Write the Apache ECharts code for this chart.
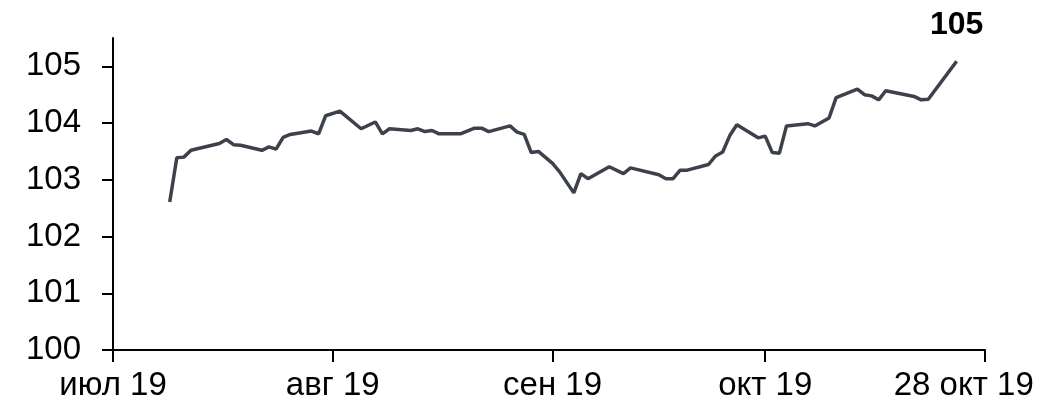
<!DOCTYPE html>
<html>
<head>
<meta charset="utf-8">
<script src="https://cdn.jsdelivr.net/npm/echarts@6/dist/echarts.min.js"></script>
<style>
    html, body { margin: 0; padding: 0; background: #fff; }
    #chart { width: 1051px; height: 412px; }
</style>
</head>
<body>
<div id="chart"></div>
<script>
    // даты и значения индекса
    var dates = [
        '2019-07-09','2019-07-10','2019-07-11','2019-07-12','2019-07-16','2019-07-17','2019-07-18','2019-07-19',
        '2019-07-22','2019-07-23','2019-07-24','2019-07-25','2019-07-26','2019-07-29','2019-07-30','2019-07-31',
        '2019-08-02','2019-08-05','2019-08-07','2019-08-08','2019-08-09','2019-08-12','2019-08-13','2019-08-14',
        '2019-08-15','2019-08-16','2019-08-19','2019-08-21','2019-08-22','2019-08-23','2019-08-26','2019-08-27',
        '2019-08-28','2019-08-29','2019-08-30','2019-09-01','2019-09-02','2019-09-04','2019-09-05','2019-09-06',
        '2019-09-09','2019-09-11','2019-09-12','2019-09-16','2019-09-17','2019-09-18','2019-09-19','2019-09-20',
        '2019-09-23','2019-09-24','2019-09-25','2019-09-26','2019-09-27','2019-09-30','2019-10-01','2019-10-02',
        '2019-10-03','2019-10-04','2019-10-07','2019-10-08','2019-10-10','2019-10-11','2019-10-14','2019-10-15',
        '2019-10-16','2019-10-17','2019-10-18','2019-10-22','2019-10-23','2019-10-24','2019-10-28'
    ];
    var values = [
        102.61, 103.39, 103.40, 103.52, 103.64, 103.71, 103.62, 103.61,
        103.52, 103.58, 103.54, 103.75, 103.80, 103.86, 103.81, 104.13,
        104.21, 103.90, 104.02, 103.81, 103.90, 103.87, 103.90, 103.85,
        103.87, 103.81, 103.81, 103.91, 103.91, 103.85, 103.95, 103.84,
        103.80, 103.48, 103.50, 103.29, 103.14, 102.77, 103.11, 103.02,
        103.23, 103.11, 103.21, 103.09, 103.02, 103.02, 103.17, 103.17,
        103.27, 103.42, 103.49, 103.78, 103.97, 103.74, 103.77, 103.48,
        103.47, 103.95, 103.99, 103.95, 104.09, 104.45, 104.60, 104.50,
        104.48, 104.41, 104.57, 104.47, 104.41, 104.42, 105.09
    ];
    var lastLabel = '105';

    var yTicks = [100, 101, 102, 103, 104, 105];
    var xTickDates = ['2019-07-01','2019-08-01','2019-09-01','2019-10-01','2019-11-01'];
    var xLabelDates = ['2019-07-01','2019-08-01','2019-09-01','2019-10-01','2019-10-29'];
    var xLabels = ['июл 19','авг 19','сен 19','окт 19','28 окт 19'];

    (function(){
        var myChart = echarts.init(document.getElementById('chart'));
        var font = "'Liberation Sans', Arial, sans-serif";

        // дни от начала оси
        var t0 = Date.parse(xTickDates[0]);
        function dayOf(d){ return Math.round((Date.parse(d) - t0) / 86400000); }

        var labelDays = xLabelDates.map(dayOf);
        var tickDays = xTickDates.map(dayOf);

        var seriesData = dates.map(function(d, i){
            var item = { value: [dayOf(d), values[i]] };
            if (i === dates.length - 1) {
                item.label = {
                    show: true,
                    position: 'top',
                    distance: 20,
                    formatter: lastLabel,
                    fontFamily: font,
                    fontSize: 32,
                    fontWeight: 'bold',
                    color: '#000'
                };
            }
            return item;
        });

        var option = {
            animation: false,
            textStyle: { fontFamily: font },
            grid: { left: 113, right: 66, top: 38, bottom: 62, containLabel: false },
            xAxis: {
                type: 'value',
                min: tickDays[0],
                max: tickDays[tickDays.length - 1],
                axisLine: { lineStyle: { color: '#000', width: 2 } },
                axisTick: {
                    show: true,
                    length: 12,
                    lineStyle: { color: '#000', width: 2 },
                    customValues: tickDays
                },
                axisLabel: {
                    color: '#000',
                    fontSize: 33,
                    fontFamily: font,
                    margin: 19,
                    hideOverlap: false,
                    customValues: labelDays,
                    formatter: function(v){
                        var idx = labelDays.indexOf(v);
                        return idx >= 0 ? xLabels[idx] : '';
                    }
                },
                splitLine: { show: false }
            },
            yAxis: {
                type: 'value',
                min: 100,
                max: 105.5,
                axisLine: { show: true, lineStyle: { color: '#000', width: 2 } },
                axisTick: {
                    show: true,
                    length: 11,
                    lineStyle: { color: '#000', width: 2 },
                    customValues: yTicks
                },
                axisLabel: {
                    color: '#000',
                    fontSize: 33,
                    fontFamily: font,
                    margin: 32,
                    customValues: yTicks
                },
                splitLine: { show: false }
            },
            series: [
                {
                    type: 'line',
                    data: seriesData,
                    showSymbol: true,
                    symbol: 'circle',
                    symbolSize: 0,
                    lineStyle: { color: '#3c414c', width: 3.5 },
                    itemStyle: { color: '#3c414c' }
                }
            ]
        };

        myChart.setOption(option);
    })();
</script>
</body>
</html>
